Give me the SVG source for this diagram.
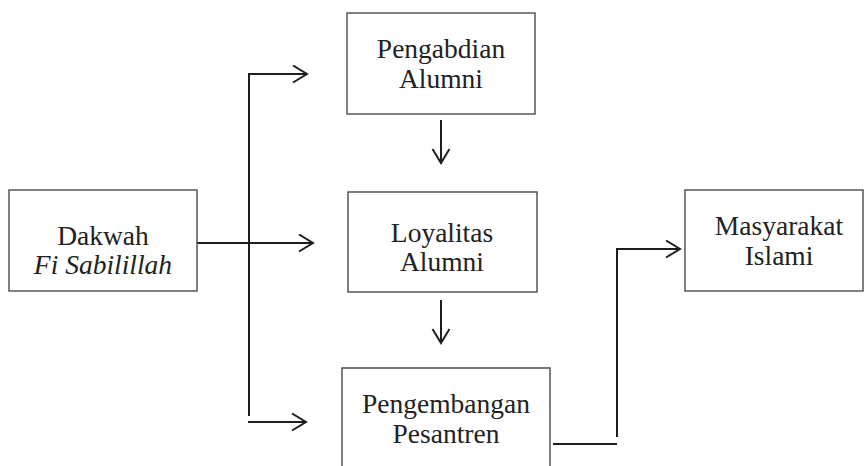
<svg xmlns="http://www.w3.org/2000/svg" width="866" height="466" viewBox="0 0 866 466">
  <style>
    .box { fill: #ffffff; stroke: #4a4a4a; stroke-width: 1.4; }
    .label { font-family: "Liberation Serif", "Times New Roman", serif; font-size: 27.5px; fill: #222222; text-anchor: middle; }
    .it { font-style: italic; }
    .wire { fill: none; stroke: #1e1e1e; stroke-width: 2; }
  </style>
  <defs>
    <marker id="arrow" markerUnits="userSpaceOnUse" markerWidth="20" markerHeight="20" refX="15" refY="9" orient="auto">
      <path d="M1,0.5 L15,9 L1,17.5" fill="none" stroke="#1e1e1e" stroke-width="2"/>
    </marker>
  </defs>
  <rect width="866" height="466" fill="#ffffff"/>

  <g id="connectors">
    <!-- branch from Dakwah to the three middle boxes -->
    <path class="wire" d="M197,243 L313,243" marker-end="url(#arrow)"/>
    <path class="wire" d="M249,416 L249,74 L307,74" marker-end="url(#arrow)"/>
    <path class="wire" d="M248,422 L306,422" marker-end="url(#arrow)"/>
    <!-- vertical flow in the middle column -->
    <path class="wire" d="M441,120 L441,163" marker-end="url(#arrow)"/>
    <path class="wire" d="M441,300 L441,343" marker-end="url(#arrow)"/>
    <!-- Pengembangan to Masyarakat -->
    <path class="wire" d="M553,444 L617,444"/>
    <path class="wire" d="M617,437 L617,249 L680,249" marker-end="url(#arrow)"/>
  </g>

  <g id="dakwah">
    <rect class="box" x="9" y="190" width="188" height="101"/>
    <text class="label" x="103" y="245">Dakwah</text>
    <text class="label it" x="103" y="274">Fi Sabilillah</text>
  </g>

  <g id="pengabdian">
    <rect class="box" x="347" y="13" width="188" height="101"/>
    <text class="label" x="441" y="58">Pengabdian</text>
    <text class="label" x="441" y="88">Alumni</text>
  </g>

  <g id="loyalitas">
    <rect class="box" x="348" y="192" width="189" height="100"/>
    <text class="label" x="442" y="242">Loyalitas</text>
    <text class="label" x="442" y="271">Alumni</text>
  </g>

  <g id="pengembangan">
    <path class="box" d="M342,470 L342,368 L550,368 L550,470"/>
    <text class="label" x="446" y="413">Pengembangan</text>
    <text class="label" x="446" y="443">Pesantren</text>
  </g>

  <g id="masyarakat">
    <rect class="box" x="685" y="190" width="178" height="101"/>
    <text class="label" x="779" y="235">Masyarakat</text>
    <text class="label" x="779" y="265">Islami</text>
  </g>
</svg>
